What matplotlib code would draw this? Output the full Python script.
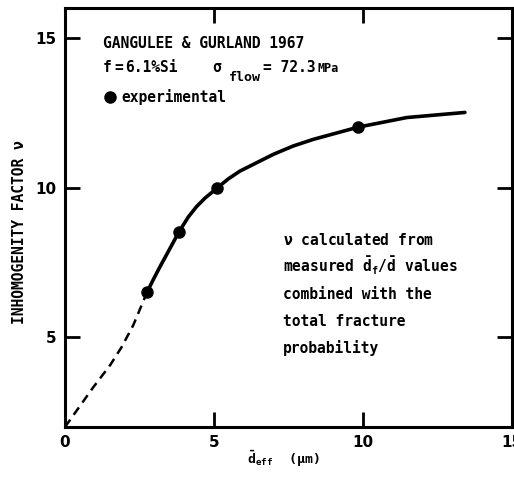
#!/usr/bin/env python3
"""
Inhomogeneity factor nu vs effective grain size  (Gangulee & Gurland 1967)
Output: out.png
"""

import matplotlib
matplotlib.use("Agg")
import matplotlib.pyplot as plt

# ── data ───────────────────────────────────────────────────────────────────
exp_d   = [2.76, 3.83, 5.11, 9.84]          # experimental points, d_eff (um)
exp_nu  = [6.52, 8.53, 9.99, 12.02]

fit_d   = [2.76, 2.96, 3.19, 3.41, 3.83, 4.14, 4.42, 4.70, 5.11, 5.48, 5.87,
           6.99, 7.66, 8.33, 9.84, 11.47, 13.42]
fit_nu  = [6.52, 6.92, 7.36, 7.76, 8.53, 9.02, 9.37, 9.65, 9.99, 10.29, 10.55,
           11.11, 11.39, 11.61, 12.02, 12.34, 12.51]

extr_d  = [0.0, 0.95, 1.51, 1.90, 2.29, 2.76]   # dashed extrapolation
extr_nu = [2.0, 3.33, 4.06, 4.67, 5.40, 6.52]

x_ticks = [0, 5, 10, 15]
y_ticks = [5, 10, 15]

note_lines = [
    r"$\nu$ calculated from",
    r"measured $\bar{d}_f/\bar{d}$ values",
    "combined with the",
    "total fracture",
    "probability",
]

# ── style ──────────────────────────────────────────────────────────────────
MONO = "DejaVu Sans Mono"
plt.rcParams['mathtext.fontset'] = 'custom'
plt.rcParams['mathtext.rm'] = 'DejaVu Sans Mono:bold'
plt.rcParams['mathtext.it'] = 'DejaVu Sans Mono:bold'
plt.rcParams['mathtext.bf'] = 'DejaVu Sans Mono:bold'
FS = 10.5

fig = plt.figure(figsize=(5.14, 4.83), dpi=100)
fig.patch.set_facecolor('white')
ax = fig.add_axes([65 / 514, 1 - 427 / 483, 447 / 514, 419 / 483])


def axc(px, py):
    """pixel position in the picture -> axes fraction"""
    return (px - 65) / 447, (427 - py) / 419


ax.plot(extr_d, extr_nu, color='black', lw=1.8, ls=(0, (3.6, 2.4)))
ax.plot(fit_d, fit_nu, color='black', lw=2.6, solid_joinstyle='round',
        solid_capstyle='round')
pts, = ax.plot(exp_d, exp_nu, 'o', color='black', ms=8, ls='none',
               label='experimental')

ax.set_xlim(0, 15)
ax.set_ylim(2, 16)
ax.set_xticks(x_ticks)
ax.set_yticks(y_ticks)

for sp in ax.spines.values():
    sp.set_linewidth(2.2)
ax.tick_params(direction='in', length=10.5, width=2, top=True, right=True,
               pad=6, labelsize=11)
for lab in ax.get_xticklabels() + ax.get_yticklabels():
    lab.set_fontweight('bold')

ax.set_ylabel("INHOMOGENITY FACTOR ν", family=MONO, fontweight='bold',
              fontsize=FS)
ax.yaxis.set_label_coords(-0.086, 0.465)
ax.set_xlabel(r"$\bar{d}_{eff}$  (μm)", family=MONO, fontweight='bold',
              fontsize=9.5)
ax.xaxis.set_label_coords(0.488, -0.052)

# ── header text ────────────────────────────────────────────────────────────
txt = dict(transform=ax.transAxes, family=MONO, fontweight='bold',
           va='baseline')
ax.text(*axc(103, 48), "GANGULEE & GURLAND 1967", fontsize=FS, **txt)
ax.text(*axc(103, 72), "f", fontsize=FS, **txt)
ax.text(*axc(114, 72), "=", fontsize=FS, **txt)
ax.text(*axc(125, 72), "6.1%Si", fontsize=FS, **txt)
ax.text(*axc(212, 72), "σ", fontsize=FS, **txt)
ax.text(*axc(229, 81), "flow", fontsize=9.5, **txt)
ax.text(*axc(263, 72), "= 72.3", fontsize=FS, **txt)
ax.text(*axc(318, 72), "MPa", fontsize=8.5, **txt)
ax.legend(handles=[pts], loc='center left', bbox_to_anchor=axc(104, 97),
          frameon=False, borderpad=0, borderaxespad=0, handlelength=0.8,
          handletextpad=0.4, prop={'family': MONO, 'weight': 'bold',
                                   'size': FS})

# ── right-hand note ────────────────────────────────────────────────────────
for i, line in enumerate(note_lines):
    ax.text(*axc(283, 245 + 27 * i), line, fontsize=FS, **txt)

fig.savefig('out.png', dpi=100, facecolor='white')
